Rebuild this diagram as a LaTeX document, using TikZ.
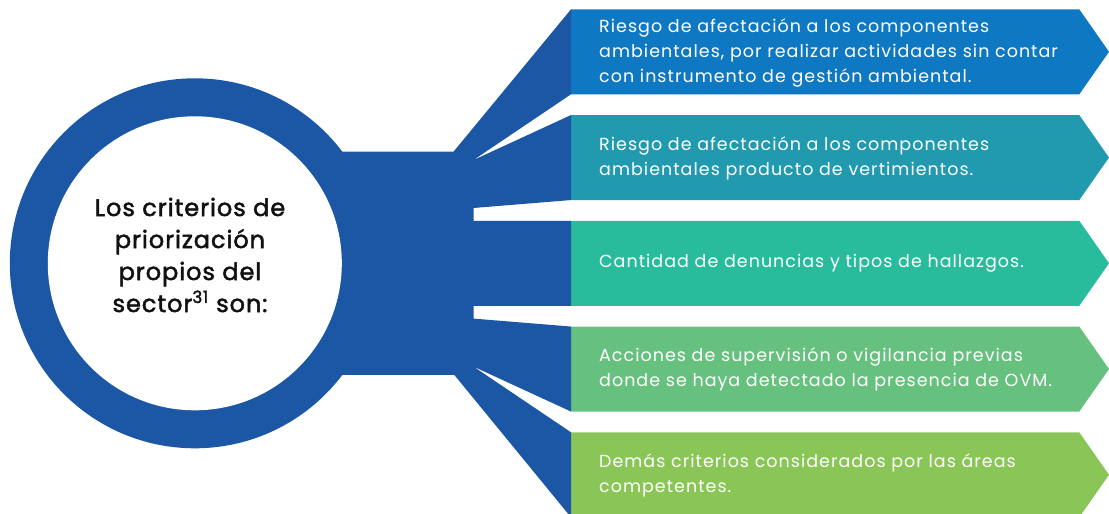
\documentclass[tikz,border=0pt]{standalone}
\usepackage{fontspec}
\setmainfont{Poppins}
\newfontfamily\boxfont[LetterSpace=5.8]{Poppins}
\newfontfamily\titlefont[FakeBold=2,LetterSpace=4]{Poppins}
\definecolor{ringblue}{HTML}{1B57A5}
\definecolor{cA}{HTML}{0F78C3}
\definecolor{cB}{HTML}{2199AE}
\definecolor{cC}{HTML}{29BC9C}
\definecolor{cD}{HTML}{67C17E}
\definecolor{cE}{HTML}{8AC657}
\definecolor{titleink}{HTML}{111111}
\tikzset{
  boxtext/.style={anchor=west, align=left, text=white, inner sep=0pt,
    font=\boxfont\fontsize{17.5}{25}\selectfont},
  titletext/.style={align=center, text=titleink, inner sep=0pt,
    font=\titlefont\fontsize{24}{32}\selectfont},
}
\newcommand{\arrowbox}[2]{%
  \fill[#2] (571,#1) -- (1079.3,#1) -- (1109,#1+42.5) -- (1079.3,#1+85) -- (571,#1+85) -- cycle;}
\begin{document}
\begin{tikzpicture}[x=1pt,y=-1pt]
\useasboundingbox (0,0) rectangle (1109,514);
\begin{scope}
\clip (0,0) rectangle (1109,514);
% boxes
\arrowbox{9.3}{cA}
\arrowbox{115.05}{cB}
\arrowbox{220.8}{cC}
\arrowbox{326.55}{cD}
\arrowbox{432.3}{cE}
% ring and fan
\coordinate (c) at (194.8,263.3);
\fill[ringblue] (c) circle[radius=185pt];
\fill[ringblue] (320,151.7) -- (453.5,151.7) -- (571,9.3) -- (571,94.3)
  -- (473.5,160) -- (571,115.05) -- (571,200.05) -- (473.5,208) -- (473.5,220.8)
  -- (571,220.8) -- (571,305.8) -- (473.5,305.8) -- (473.5,318.6) -- (571,326.55)
  -- (571,411.55) -- (473.5,366.6) -- (571,432.3) -- (571,517.3)
  -- (454.3,374.9) -- (320,374.9) -- cycle;
\fill[white] (c) circle[radius=147pt];
\end{scope}
% texts
\node[titletext] (title) at (190,255) {Los criterios de\\priorización\\propios del\\sector\textsuperscript{31} son:};
\node[boxtext] (t1) at (599,52.5) {Riesgo de afectación a los componentes\\ambientales, por realizar actividades sin contar\\con instrumento de gestión ambiental.};
\node[boxtext] (t2) at (599,158) {Riesgo de afectación a los componentes\\ambientales producto de vertimientos.};
\node[boxtext] (t3) at (599,263.3) {Cantidad de denuncias y tipos de hallazgos.};
\node[boxtext] (t4) at (599,369.5) {Acciones de supervisión o vigilancia previas\\donde se haya detectado la presencia de OVM.};
\node[boxtext] (t5) at (599,475.3) {Demás criterios considerados por las áreas\\competentes.};
\end{tikzpicture}
\end{document}
